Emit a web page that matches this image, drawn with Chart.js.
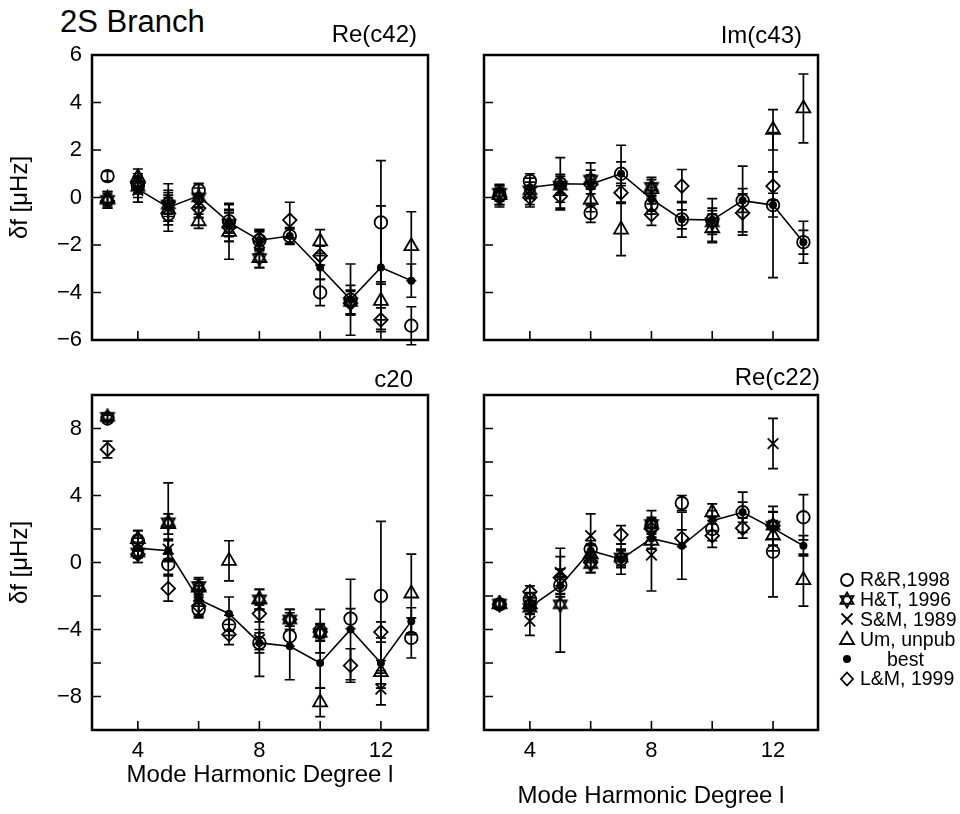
<!DOCTYPE html>
<html>
<head>
<meta charset="utf-8">
<script src="https://cdn.jsdelivr.net/npm/chart.js@4.4.1/dist/chart.umd.min.js"></script>
<style>
  html, body { margin: 0; padding: 0; background: #fff; }
  body { width: 960px; height: 814px; position: relative; overflow: hidden; font-family: "Liberation Sans", Arial, sans-serif; color: #000; }
  canvas.panel { position: absolute; left: 0; top: 0; }
  #branch { position: absolute; left: 60px; top: 4px; font-size: 31px; white-space: nowrap; }
  #legend { position: absolute; left: 838px; top: 570px; font-size: 19.5px; }
  #legend .row { display: flex; align-items: center; height: 19.8px; white-space: nowrap; }
  #legend canvas { width: 18px; height: 18px; margin-right: 4px; }
</style>
</head>
<body>
<div id="branch">2S Branch</div>
<canvas id="c42" class="panel" width="960" height="814"></canvas>
<canvas id="c43" class="panel" width="960" height="814"></canvas>
<canvas id="c20" class="panel" width="960" height="814"></canvas>
<canvas id="c22" class="panel" width="960" height="814"></canvas>
<div id="legend"></div>
<script>
const degrees = [3, 4, 5, 6, 7, 8, 9, 10, 11, 12, 13]
const xTicks = [4, 6, 8, 10, 12]
const xLabels = [4, 8, 12]
const yTicksTop = [-6, -4, -2, 0, 2, 4, 6]
const yTicksBottom = [-10, -8, -6, -4, -2, 0, 2, 4, 6, 8, 10]
const yLabelsBottom = [-8, -4, 0, 4, 8]
const seriesNames = ['R&R,1998', 'H&T, 1996', 'S&M, 1989', 'Um, unpub', 'best', 'L&M, 1999']

// Re(c42)
const c42_rr      = [0.9, 0.5, -0.7, 0.3, -1.0, -1.8, -1.62, -4.0, -4.3, -1.05, -5.4]
const c42_rrErr   = [0.2, 0.35, 0.45, 0.3, 0.5, 0.4, 0.35, 0.55, 0.6, 2.6, 0.8]
const c42_ht      = [-0.1, 0.45, -0.3, 0.0, -1.1, -2.55, null, null, -4.4, null, null]
const c42_htErr   = [0.35, 0.45, 0.5, 0.4, 0.55, 0.4, null, null, 0.5, null, null]
const c42_sm      = [null, 0.3, -0.45, -0.35, null, -1.9, null, null, null, null, null]
const c42_smErr   = [null, 0.5, 0.55, 0.5, null, 0.45, null, null, null, null, null]
const c42_um      = [-0.05, 0.85, -0.5, -1.0, -1.45, -2.55, null, -1.85, null, -4.35, -2.05]
const c42_umErr   = [0.3, 0.35, 0.5, 0.3, 1.15, 0.4, null, 0.5, null, 0.8, 1.45]
const c42_best    = [null, 0.35, -0.42, 0.07, -1.05, -1.8, -1.62, -2.95, -4.3, -2.95, -3.5]
const c42_bestErr = [null, 0.55, 1.0, 0.5, 0.8, 0.45, 0.3, 0.5, 1.5, 2.6, 0.7]
const c42_lm      = [-0.15, 0.6, -0.2, -0.45, -1.25, -1.75, -0.95, -2.45, -4.45, -5.15, null]
const c42_lmErr   = [0.3, 0.4, 0.5, 0.4, 0.6, 0.4, 0.75, 0.4, 0.5, 0.5, null]

// Im(c43)
const c43_rr      = [0.1, 0.7, 0.58, -0.65, 1.0, -0.3, -0.92, -0.95, -0.13, -0.32, -1.88]
const c43_rrErr   = [0.4, 0.3, 0.4, 0.4, 0.5, 0.4, 0.4, 0.5, 0.5, 0.5, 0.5]
const c43_ht      = [0.2, 0.3, 0.5, 0.75, null, 0.45, null, -1.05, null, null, null]
const c43_htErr   = [0.35, 0.35, 0.4, 0.4, null, 0.4, null, 0.5, null, null, null]
const c43_sm      = [null, 0.1, 0.3, null, null, null, null, null, null, null, null]
const c43_smErr   = [null, 0.4, 0.5, null, null, null, null, null, null, null, null]
const c43_um      = [0.1, null, null, -0.1, -1.35, 0.35, null, -1.3, null, 2.85, 3.75]
const c43_umErr   = [0.4, null, null, 0.5, 1.1, 0.4, null, 0.6, null, 0.85, 1.45]
const c43_best    = [null, 0.42, 0.58, 0.56, 1.0, -0.07, -0.92, -0.95, -0.13, -0.32, -1.88]
const c43_bestErr = [null, 0.4, 1.1, 0.9, 1.2, 0.5, 0.75, 0.9, 1.45, 3.05, 0.88]
const c43_lm      = [0.0, 0.0, 0.05, 0.55, 0.2, -0.72, 0.48, null, -0.65, 0.48, null]
const c43_lmErr   = [0.4, 0.4, 0.5, 0.4, 0.4, 0.45, 0.7, null, 0.8, 0.6, null]

// c20
const c20_rr      = [8.6, 1.3, -0.1, -2.8, -3.75, -4.8, -4.4, -4.1, -3.35, -2.0, -4.5]
const c20_rrErr   = [0.2, 0.6, 0.6, 0.5, 0.6, 0.6, 0.6, 1.3, 0.6, 4.45, 1.2]
const c20_ht      = [8.7, 0.6, 2.4, -1.4, null, -2.2, -3.4, -4.2, null, null, null]
const c20_htErr   = [0.2, 0.6, 2.35, 0.5, null, 0.6, 0.6, 0.5, null, null, null]
const c20_sm      = [null, 1.0, 0.8, -2.0, null, -4.6, null, null, null, -7.55, null]
const c20_smErr   = [null, 0.6, 0.6, 0.6, null, 0.6, null, null, null, 0.95, null]
const c20_um      = [null, 1.4, 2.3, -1.5, 0.1, -2.2, null, -8.35, null, -6.55, -1.85]
const c20_umErr   = [null, 0.5, 0.6, 0.5, 1.2, 0.6, null, 0.85, null, 0.7, 2.35]
const c20_best    = [null, 0.86, 0.7, -2.2, -3.06, -4.8, -5.0, -6.0, -4.0, -6.0, -3.5]
const c20_bestErr = [null, 0.6, 0.6, 1.0, 1.0, 2.0, 2.0, 1.5, 3.0, 1.5, 0.8]
const c20_lm      = [6.75, 0.5, -1.55, -2.6, -4.3, -3.05, -3.4, -4.15, -6.15, -4.15, null]
const c20_lmErr   = [0.5, 0.5, 0.75, 0.5, 0.6, 0.5, 0.6, 0.5, 1.0, 0.6, null]

// Re(c22)
const c22_rr      = [-2.5, -2.2, -1.35, 0.8, 0.2, 2.2, 3.55, 2.0, 3.0, 0.65, 2.7]
const c22_rrErr   = [0.25, 0.4, 0.5, 0.5, 0.5, 0.5, 0.45, 0.7, 0.6, 2.7, 1.35]
const c22_ht      = [-2.45, -2.7, -2.5, -0.1, 0.3, 2.3, null, null, null, 2.2, null]
const c22_htErr   = [0.25, 0.4, 2.85, 0.5, 0.5, 0.8, null, null, null, 0.8, null]
const c22_sm      = [null, -3.5, -0.6, 1.6, null, 0.45, null, null, null, 7.1, null]
const c22_smErr   = [null, 0.85, 1.45, 1.3, null, 2.15, null, null, null, 1.5, null]
const c22_um      = [-2.5, -2.5, null, 0.5, null, 1.3, null, 3.0, null, 1.6, -1.05]
const c22_umErr   = [0.25, 0.4, null, 0.5, null, 0.5, null, 0.5, null, 0.9, 1.55]
const c22_best    = [null, -2.66, -1.4, 0.7, 0.2, 1.44, 1.0, 2.5, 3.0, 2.04, 1.0]
const c22_bestErr = [null, 0.4, 0.5, 0.4, 0.9, 0.6, 2.0, 0.6, 1.2, 1.0, 0.6]
const c22_lm      = [-2.5, -1.75, -0.9, 0.0, 1.65, 2.0, 1.45, 1.6, 2.05, 2.2, null]
const c22_lmErr   = [0.25, 0.35, 0.5, 0.6, 0.55, 0.5, 0.5, 0.7, 0.6, 0.8, null]

const FONT = '"Liberation Sans", Arial, sans-serif'
Chart.defaults.font.family = FONT
Chart.defaults.color = '#000'

const markerKinds = ['circle', 'hexagram', 'cross', 'triangle', 'dot', 'diamond']

// star of David has no built-in style, so it is a small canvas image
function drawMarker(kind) {
  const c = document.createElement('canvas')
  c.width = 18
  c.height = 18
  const g = c.getContext('2d')
  g.translate(9, 9)
  g.strokeStyle = '#000'
  g.fillStyle = '#000'
  g.lineWidth = 1.8
  g.beginPath()
  if (kind === 'circle') {
    g.arc(0, 0, 6, 0, Math.PI * 2)
  } else if (kind === 'hexagram') {
    const r = 7.5, h = r * Math.sqrt(3) / 2
    g.moveTo(0, -r); g.lineTo(h, r / 2); g.lineTo(-h, r / 2); g.closePath()
    g.moveTo(0, r); g.lineTo(h, -r / 2); g.lineTo(-h, -r / 2); g.closePath()
  } else if (kind === 'cross') {
    g.moveTo(-5.5, -5.5); g.lineTo(5.5, 5.5)
    g.moveTo(5.5, -5.5); g.lineTo(-5.5, 5.5)
  } else if (kind === 'triangle') {
    g.moveTo(0, -7); g.lineTo(7, 5); g.lineTo(-7, 5); g.closePath()
  } else if (kind === 'dot') {
    g.arc(0, 0, 4, 0, Math.PI * 2)
  } else if (kind === 'diamond') {
    g.moveTo(0, -6.5); g.lineTo(6, 0); g.lineTo(0, 6.5); g.lineTo(-6, 0); g.closePath()
  }
  if (kind === 'dot') g.fill()
  else g.stroke()
  return c
}

const chartStyle = {
  circle:   { style: 'circle', r: 6.3 },
  hexagram: { style: null, r: 8 },
  cross:    { style: 'crossRot', r: 7.5 },
  triangle: { style: 'triangle', r: 8 },
  dot:      { style: 'circle', r: 4 },
  diamond:  { style: 'rectRot', r: 6.8 }
}

function buildSets(pairs) {
  return pairs.map(([vals, errs], k) => {
    const pts = []
    degrees.forEach((d, i) => {
      if (vals[i] != null) pts.push({ x: d, y: vals[i], e: errs[i] })
    })
    const kind = markerKinds[k]
    const isBest = kind === 'dot'
    const st = chartStyle[kind]
    return {
      label: seriesNames[k],
      data: pts,
      showLine: isBest,
      borderColor: '#000',
      borderWidth: 1.6,
      pointStyle: st.style || drawMarker(kind),
      pointRadius: st.r,
      pointBackgroundColor: isBest ? '#000' : 'rgba(0,0,0,0)',
      pointBorderColor: '#000',
      pointBorderWidth: isBest ? 0 : 1.8,
      clip: false
    }
  })
}

const errorBars = {
  id: 'errorBars',
  beforeDatasetsDraw(chart) {
    const { ctx, scales: { x, y } } = chart
    ctx.save()
    ctx.strokeStyle = '#000'
    ctx.lineWidth = 1.7
    chart.data.datasets.forEach(ds => {
      ds.data.forEach(p => {
        if (p.e == null) return
        const px = x.getPixelForValue(p.x)
        const top = y.getPixelForValue(p.y + p.e)
        const bot = y.getPixelForValue(p.y - p.e)
        ctx.beginPath()
        ctx.moveTo(px, top); ctx.lineTo(px, bot)
        ctx.moveTo(px - 5, top); ctx.lineTo(px + 5, top)
        ctx.moveTo(px - 5, bot); ctx.lineTo(px + 5, bot)
        ctx.stroke()
      })
    })
    ctx.restore()
  }
}

// box round the plot, inward tick marks and panel name
const frame = {
  id: 'frame',
  afterDatasetsDraw(chart, args, opts) {
    const { ctx, chartArea: a, scales: { x, y } } = chart
    ctx.save()
    ctx.strokeStyle = '#000'
    ctx.lineWidth = 1.6
    ctx.beginPath()
    x.ticks.forEach(t => {
      const px = x.getPixelForValue(t.value)
      ctx.moveTo(px, a.bottom); ctx.lineTo(px, a.bottom - 9)
    })
    y.ticks.forEach(t => {
      const py = y.getPixelForValue(t.value)
      ctx.moveTo(a.left, py); ctx.lineTo(a.left + 9, py)
    })
    ctx.stroke()
    ctx.lineWidth = 2.5
    ctx.strokeRect(a.left, a.top, a.right - a.left, a.bottom - a.top)
    ctx.fillStyle = '#000'
    ctx.font = '24px ' + FONT
    ctx.textAlign = 'right'
    ctx.textBaseline = 'alphabetic'
    ctx.fillText(opts.text, a.right - opts.inset, a.top - opts.lift)
    ctx.restore()
  }
}

function fmt(v) {
  return v < 0 ? '\u2212' + Math.abs(v) : String(v)
}

function panel(id, cfg) {
  const yAxisW = cfg.leftCol ? 86 : 0
  const xAxisH = cfg.xh
  new Chart(document.getElementById(id), {
    type: 'scatter',
    data: { datasets: buildSets(cfg.series) },
    options: {
      responsive: false,
      animation: false,
      events: [],
      layout: {
        padding: {
          left: cfg.left - yAxisW,
          top: cfg.top,
          right: 960 - cfg.right,
          bottom: 814 - cfg.bottom - xAxisH
        }
      },
      plugins: {
        legend: { display: false },
        tooltip: { enabled: false },
        frame: { text: cfg.title, inset: cfg.inset, lift: cfg.lift }
      },
      scales: {
        x: {
          type: 'linear',
          min: cfg.xmin,
          max: cfg.xmax,
          afterBuildTicks: s => { s.ticks = xTicks.map(v => ({ value: v })) },
          afterFit: s => { s.height = xAxisH },
          grid: { display: false, drawTicks: false },
          border: { display: false },
          ticks: {
            display: cfg.bottomRow,
            autoSkip: false,
            maxRotation: 0,
            padding: 8,
            font: { size: 22 },
            callback: v => xLabels.includes(v) ? String(v) : ''
          },
          title: {
            display: cfg.bottomRow,
            text: 'Mode Harmonic Degree l',
            font: { size: 24 },
            padding: 0
          }
        },
        y: {
          type: 'linear',
          min: cfg.ymin,
          max: cfg.ymax,
          afterBuildTicks: s => { s.ticks = cfg.yTicks.map(v => ({ value: v })) },
          afterFit: s => { s.width = yAxisW },
          grid: { display: false, drawTicks: false },
          border: { display: false },
          ticks: {
            display: cfg.leftCol,
            autoSkip: false,
            padding: 10,
            font: { size: 22 },
            callback: v => cfg.yLabels.includes(v) ? fmt(v) : ''
          },
          title: {
            display: cfg.leftCol,
            text: 'δf [μHz]',
            font: { size: 24 },
            padding: 0
          }
        }
      }
    },
    plugins: [errorBars, frame]
  })
}

panel('c42', {
  title: 'Re(c42)', inset: 11, lift: 13,
  leftCol: true, bottomRow: false,
  left: 92, right: 428, top: 55, bottom: 340, xh: 0,
  xmin: 2.49, xmax: 13.55, ymin: -6, ymax: 6,
  yTicks: yTicksTop, yLabels: yTicksTop,
  series: [[c42_rr, c42_rrErr], [c42_ht, c42_htErr], [c42_sm, c42_smErr],
           [c42_um, c42_umErr], [c42_best, c42_bestErr], [c42_lm, c42_lmErr]]
})

panel('c43', {
  title: 'Im(c43)', inset: 16, lift: 12,
  leftCol: false, bottomRow: false,
  left: 484, right: 818, top: 55, bottom: 340, xh: 0,
  xmin: 2.49, xmax: 13.48, ymin: -6, ymax: 6,
  yTicks: yTicksTop, yLabels: [],
  series: [[c43_rr, c43_rrErr], [c43_ht, c43_htErr], [c43_sm, c43_smErr],
           [c43_um, c43_umErr], [c43_best, c43_bestErr], [c43_lm, c43_lmErr]]
})

panel('c20', {
  title: 'c20', inset: 15, lift: 8,
  leftCol: true, bottomRow: true,
  left: 92, right: 428, top: 395, bottom: 730, xh: 60,
  xmin: 2.49, xmax: 13.55, ymin: -10, ymax: 10,
  yTicks: yTicksBottom, yLabels: yLabelsBottom,
  series: [[c20_rr, c20_rrErr], [c20_ht, c20_htErr], [c20_sm, c20_smErr],
           [c20_um, c20_umErr], [c20_best, c20_bestErr], [c20_lm, c20_lmErr]]
})

panel('c22', {
  title: 'Re(c22)', inset: -2, lift: 10,
  leftCol: false, bottomRow: true,
  left: 484, right: 818, top: 395, bottom: 730, xh: 81,
  xmin: 2.49, xmax: 13.48, ymin: -10, ymax: 10,
  yTicks: yTicksBottom, yLabels: [],
  series: [[c22_rr, c22_rrErr], [c22_ht, c22_htErr], [c22_sm, c22_smErr],
           [c22_um, c22_umErr], [c22_best, c22_bestErr], [c22_lm, c22_lmErr]]
})

// legend on the right
const legend = document.getElementById('legend')
seriesNames.forEach((name, k) => {
  const row = document.createElement('div')
  row.className = 'row'
  row.appendChild(drawMarker(markerKinds[k]))
  const span = document.createElement('span')
  span.textContent = name
  if (markerKinds[k] === 'dot') span.style.marginLeft = '27px'
  row.appendChild(span)
  legend.appendChild(row)
})
</script>
</body>
</html>
